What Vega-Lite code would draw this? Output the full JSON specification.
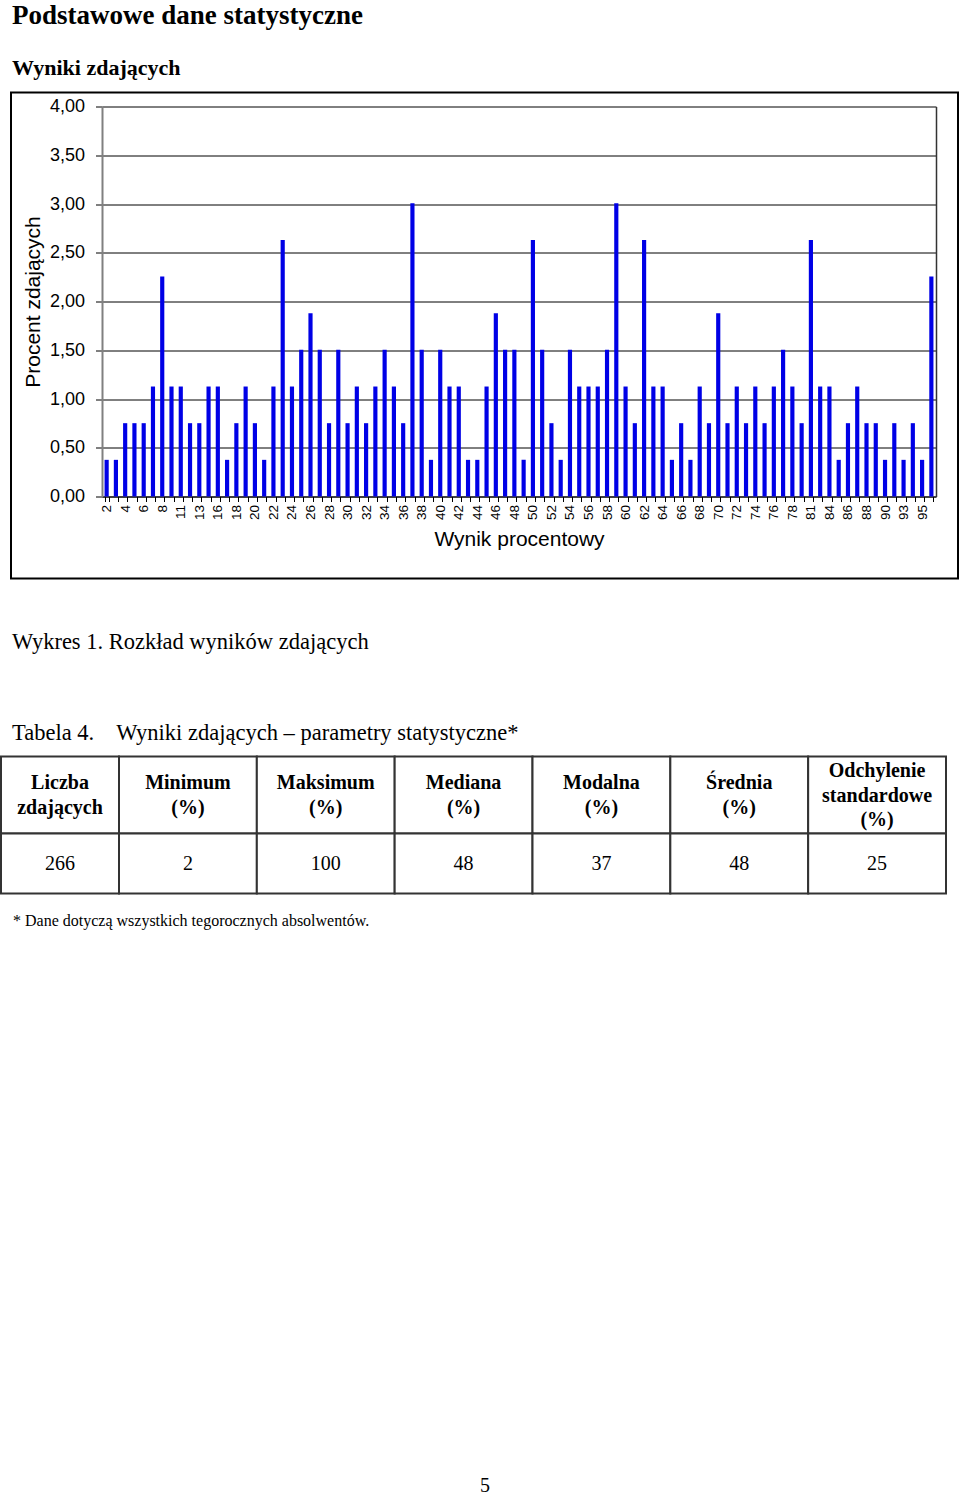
{
  "$schema": "https://vega.github.io/schema/vega-lite/v6.json",
  "padding": {"top": 1.5, "left": 0, "right": 0, "bottom": 0},
  "background": "white",
  "spacing": 18,
  "title": {
    "text": "Podstawowe dane statystyczne",
    "subtitle": "Wyniki zdających",
    "anchor": "start",
    "dx": 12,
    "font": "Liberation Serif",
    "fontSize": 27,
    "fontWeight": "bold",
    "color": "black",
    "subtitleFont": "Liberation Serif",
    "subtitleFontSize": 22,
    "subtitleFontWeight": "bold",
    "subtitleColor": "black",
    "subtitlePadding": 27.5,
    "offset": 12
  },
  "config": {"view": {"stroke": null}},
  "vconcat": [
    {
      "spacing": 1,
      "hconcat": [
        {"width": 1, "height": 520, "data": {"values": []}, "mark": "point"},
        {
          "width": 947,
          "height": 486,
          "view": {"stroke": "black", "strokeWidth": 2},
          "data": {
            "values": [
              {"score": 2, "pct": 0.376}, {"score": 3, "pct": 0.376}, {"score": 4, "pct": 0.752}, {"score": 5, "pct": 0.752},
              {"score": 6, "pct": 0.752}, {"score": 7, "pct": 1.128}, {"score": 8, "pct": 2.256}, {"score": 10, "pct": 1.128},
              {"score": 11, "pct": 1.128}, {"score": 12, "pct": 0.752}, {"score": 13, "pct": 0.752}, {"score": 14, "pct": 1.128},
              {"score": 16, "pct": 1.128}, {"score": 17, "pct": 0.376}, {"score": 18, "pct": 0.752}, {"score": 19, "pct": 1.128},
              {"score": 20, "pct": 0.752}, {"score": 21, "pct": 0.376}, {"score": 22, "pct": 1.128}, {"score": 23, "pct": 2.632},
              {"score": 24, "pct": 1.128}, {"score": 25, "pct": 1.504}, {"score": 26, "pct": 1.88}, {"score": 27, "pct": 1.504},
              {"score": 28, "pct": 0.752}, {"score": 29, "pct": 1.504}, {"score": 30, "pct": 0.752}, {"score": 31, "pct": 1.128},
              {"score": 32, "pct": 0.752}, {"score": 33, "pct": 1.128}, {"score": 34, "pct": 1.504}, {"score": 35, "pct": 1.128},
              {"score": 36, "pct": 0.752}, {"score": 37, "pct": 3.008}, {"score": 38, "pct": 1.504}, {"score": 39, "pct": 0.376},
              {"score": 40, "pct": 1.504}, {"score": 41, "pct": 1.128}, {"score": 42, "pct": 1.128}, {"score": 43, "pct": 0.376},
              {"score": 44, "pct": 0.376}, {"score": 45, "pct": 1.128}, {"score": 46, "pct": 1.88}, {"score": 47, "pct": 1.504},
              {"score": 48, "pct": 1.504}, {"score": 49, "pct": 0.376}, {"score": 50, "pct": 2.632}, {"score": 51, "pct": 1.504},
              {"score": 52, "pct": 0.752}, {"score": 53, "pct": 0.376}, {"score": 54, "pct": 1.504}, {"score": 55, "pct": 1.128},
              {"score": 56, "pct": 1.128}, {"score": 57, "pct": 1.128}, {"score": 58, "pct": 1.504}, {"score": 59, "pct": 3.008},
              {"score": 60, "pct": 1.128}, {"score": 61, "pct": 0.752}, {"score": 62, "pct": 2.632}, {"score": 63, "pct": 1.128},
              {"score": 64, "pct": 1.128}, {"score": 65, "pct": 0.376}, {"score": 66, "pct": 0.752}, {"score": 67, "pct": 0.376},
              {"score": 68, "pct": 1.128}, {"score": 69, "pct": 0.752}, {"score": 70, "pct": 1.88}, {"score": 71, "pct": 0.752},
              {"score": 72, "pct": 1.128}, {"score": 73, "pct": 0.752}, {"score": 74, "pct": 1.128}, {"score": 75, "pct": 0.752},
              {"score": 76, "pct": 1.128}, {"score": 77, "pct": 1.504}, {"score": 78, "pct": 1.128}, {"score": 80, "pct": 0.752},
              {"score": 81, "pct": 2.632}, {"score": 83, "pct": 1.128}, {"score": 84, "pct": 1.128}, {"score": 85, "pct": 0.376},
              {"score": 86, "pct": 0.752}, {"score": 87, "pct": 1.128}, {"score": 88, "pct": 0.752}, {"score": 89, "pct": 0.752},
              {"score": 90, "pct": 0.376}, {"score": 92, "pct": 0.752}, {"score": 93, "pct": 0.376}, {"score": 94, "pct": 0.752},
              {"score": 95, "pct": 0.376}, {"score": 100, "pct": 2.256}
            ]
          },
          "layer": [
            {
              "mark": {"type": "bar", "color": "#0000e6"},
              "encoding": {
                "x": {
                  "field": "score",
                  "type": "ordinal",
                  "scale": {"range": [91, 925], "paddingInner": 0.55, "paddingOuter": 0.275},
                  "axis": {
                    "offset": -82,
                    "title": "Wynik procentowy",
                    "labelAngle": -90,
                    "labelFont": "Liberation Sans",
                    "labelFontSize": 13.5,
                    "labelColor": "black",
                    "labelPadding": 3,
                    "labelOverlap": false,
                    "labelExpr": "indexof([2,4,6,8,11,13,16,18,20,22,24,26,28,30,32,34,36,38,40,42,44,46,48,50,52,54,56,58,60,62,64,66,68,70,72,74,76,78,81,84,86,88,90,93,95], datum.value) >= 0 ? datum.label : ''",
                    "tickBand": "extent",
                    "tickSize": 5,
                    "tickColor": "black",
                    "domainColor": "black",
                    "grid": false,
                    "titleFont": "Liberation Sans",
                    "titleFontSize": 21,
                    "titleFontWeight": "normal",
                    "titleColor": "black",
                    "titlePadding": 9
                  }
                },
                "y": {
                  "field": "pct",
                  "type": "quantitative",
                  "scale": {"domain": [0, 4], "range": [404, 14], "nice": false, "zero": true},
                  "axis": {
                    "offset": -91,
                    "values": [0, 0.5, 1, 1.5, 2, 2.5, 3, 3.5, 4],
                    "labelExpr": "replace(format(datum.value, '.2f'), '.', ',')",
                    "labelFont": "Liberation Sans",
                    "labelFontSize": 18,
                    "labelColor": "black",
                    "labelPadding": 11,
                    "tickSize": 6.5,
                    "tickColor": "black",
                    "domainColor": "#808080",
                    "domainWidth": 2,
                    "grid": true,
                    "gridColor": "black",
                    "gridWidth": 1,
                    "gridOpacity": 1,
                    "title": "Procent zdających",
                    "titleFont": "Liberation Sans",
                    "titleFontSize": 21,
                    "titleFontWeight": "normal",
                    "titleColor": "black",
                    "titlePadding": 6
                  }
                }
              }
            },
            {
              "mark": {"type": "rule", "opacity": 0},
              "encoding": {
                "y": {
                  "field": "pct",
                  "type": "quantitative",
                  "axis": {
                    "orient": "right",
                    "offset": -22,
                    "labels": false,
                    "ticks": false,
                    "grid": false,
                    "title": null,
                    "domainColor": "#333333",
                    "domainWidth": 1.5
                  }
                }
              }
            }
          ],
          "resolve": {"axis": {"y": "independent"}}
        }
      ]
    },
    {
      "title": {
        "text": "Wykres 1. Rozkład wyników zdających",
        "subtitle": "Tabela 4.\u00a0\u00a0\u00a0 Wyniki zdających – parametry statystyczne*",
        "anchor": "start",
        "dx": 12,
        "font": "Liberation Serif",
        "fontSize": 22.5,
        "fontWeight": "normal",
        "color": "black",
        "subtitleFont": "Liberation Serif",
        "subtitleFontSize": 22.5,
        "subtitleFontWeight": "normal",
        "subtitleColor": "black",
        "subtitlePadding": 68.5,
        "offset": 11.5
      },
      "columns": 2,
      "spacing": 0,
      "bounds": "flush",
      "concat": [
        {
          "width": 118, "height": 77,
          "data": {"values": [{"col": "c1", "label": "Liczba\nzdających"}]},
          "layer": [
            {"mark": {"type": "rect", "fill": "white", "stroke": "#333333", "strokeWidth": 2},
             "encoding": {"x": {"field": "col", "type": "nominal", "scale": {"paddingInner": 0, "paddingOuter": 0}, "axis": null}}},
            {"mark": {"type": "text", "font": "Liberation Serif", "fontSize": 20, "fontWeight": "bold", "lineBreak": "\n", "lineHeight": 24.5, "dy": -12, "color": "black"},
             "encoding": {"x": {"field": "col", "type": "nominal", "axis": null}, "text": {"field": "label"}}}
          ]
        },
        {
          "width": 827, "height": 77,
          "data": {"values": [
            {"col": "c2", "label": "Minimum\n(%)", "lines": 2},
            {"col": "c3", "label": "Maksimum\n(%)", "lines": 2},
            {"col": "c4", "label": "Mediana\n(%)", "lines": 2},
            {"col": "c5", "label": "Modalna\n(%)", "lines": 2},
            {"col": "c6", "label": "Średnia\n(%)", "lines": 2},
            {"col": "c7", "label": "Odchylenie\nstandardowe\n(%)", "lines": 3}
          ]},
          "layer": [
            {"mark": {"type": "rect", "fill": "white", "stroke": "#333333", "strokeWidth": 2},
             "encoding": {"x": {"field": "col", "type": "nominal", "sort": null, "scale": {"paddingInner": 0, "paddingOuter": 0}, "axis": null}}},
            {"transform": [{"filter": "datum.lines == 2"}],
             "mark": {"type": "text", "font": "Liberation Serif", "fontSize": 20, "fontWeight": "bold", "lineBreak": "\n", "lineHeight": 24.5, "dy": -12, "color": "black"},
             "encoding": {"x": {"field": "col", "type": "nominal", "sort": null, "axis": null}, "text": {"field": "label"}}},
            {"transform": [{"filter": "datum.lines == 3"}],
             "mark": {"type": "text", "font": "Liberation Serif", "fontSize": 20, "fontWeight": "bold", "lineBreak": "\n", "lineHeight": 24.5, "dy": -24, "color": "black"},
             "encoding": {"x": {"field": "col", "type": "nominal", "sort": null, "axis": null}, "text": {"field": "label"}}}
          ]
        },
        {
          "width": 118, "height": 60,
          "data": {"values": [{"col": "c1", "label": "266"}]},
          "layer": [
            {"mark": {"type": "rect", "fill": "white", "stroke": "#333333", "strokeWidth": 2},
             "encoding": {"x": {"field": "col", "type": "nominal", "scale": {"paddingInner": 0, "paddingOuter": 0}, "axis": null}}},
            {"mark": {"type": "text", "font": "Liberation Serif", "fontSize": 20, "fontWeight": "normal", "color": "black"},
             "encoding": {"x": {"field": "col", "type": "nominal", "axis": null}, "text": {"field": "label"}}}
          ]
        },
        {
          "width": 827, "height": 60,
          "data": {"values": [
            {"col": "c2", "label": "2"},
            {"col": "c3", "label": "100"},
            {"col": "c4", "label": "48"},
            {"col": "c5", "label": "37"},
            {"col": "c6", "label": "48"},
            {"col": "c7", "label": "25"}
          ]},
          "layer": [
            {"mark": {"type": "rect", "fill": "white", "stroke": "#333333", "strokeWidth": 2},
             "encoding": {"x": {"field": "col", "type": "nominal", "sort": null, "scale": {"paddingInner": 0, "paddingOuter": 0}, "axis": null}}},
            {"mark": {"type": "text", "font": "Liberation Serif", "fontSize": 20, "fontWeight": "normal", "color": "black"},
             "encoding": {"x": {"field": "col", "type": "nominal", "sort": null, "axis": null}, "text": {"field": "label"}}}
          ]
        }
      ]
    },
    {
      "width": 960, "height": 1,
      "data": {"values": []},
      "mark": "point",
      "title": {
        "text": "* Dane dotyczą wszystkich tegorocznych absolwentów.",
        "anchor": "start",
        "dx": 12,
        "font": "Liberation Serif",
        "fontSize": 16,
        "fontWeight": "normal",
        "color": "black",
        "offset": 0
      }
    },
    {
      "width": 960, "height": 528,
      "data": {"values": []},
      "mark": "point",
      "title": {
        "text": "5",
        "orient": "bottom",
        "anchor": "middle",
        "dx": 4,
        "font": "Liberation Serif",
        "fontSize": 20,
        "fontWeight": "normal",
        "color": "black",
        "offset": 0
      }
    }
  ]
}
